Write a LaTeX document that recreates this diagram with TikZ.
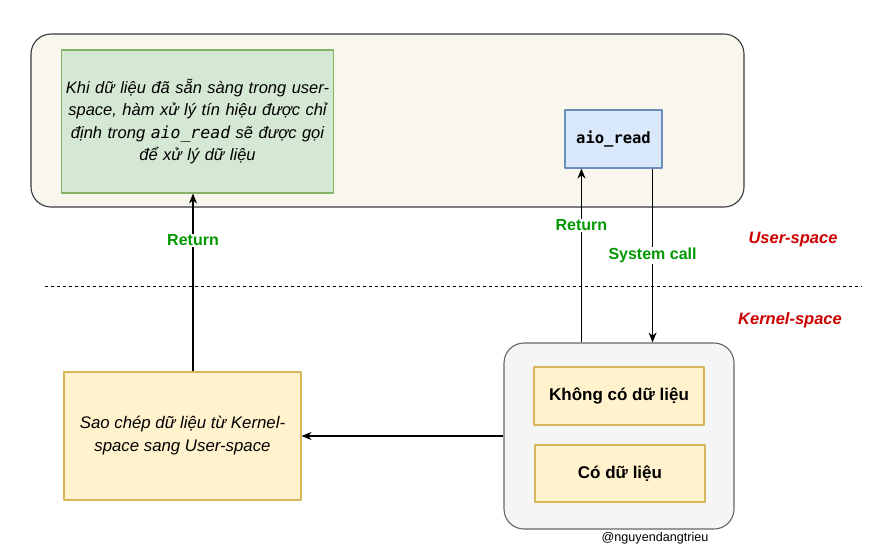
\documentclass[tikz,border=0pt]{standalone}
\usepackage{fontspec}
\setmainfont{Liberation Sans}
\setmonofont{DejaVu Sans Mono}
\usetikzlibrary{arrows.meta}
\definecolor{usrfill}{HTML}{F9F7ED}
\definecolor{usrdraw}{HTML}{36393D}
\definecolor{grnfill}{HTML}{D5E8D4}
\definecolor{grndraw}{HTML}{82B366}
\definecolor{blufill}{HTML}{DAE8FC}
\definecolor{bludraw}{HTML}{6C8EBF}
\definecolor{ylwfill}{HTML}{FFF2CC}
\definecolor{ylwdraw}{HTML}{D6B656}
\definecolor{krnfill}{HTML}{F5F5F5}
\definecolor{krndraw}{HTML}{666666}
\definecolor{lblgreen}{HTML}{009900}
\definecolor{lblred}{HTML}{CC0000}
\begin{document}
\begin{tikzpicture}[x=1pt, y=-1pt, line join=round, line width=1.1pt, >={Stealth[length=10pt,width=8pt]},
		every node/.style={font=\fontsize{16}{22}\selectfont},
		box/.style={draw, align=center, inner sep=2pt},
		lbl/.style={font=\fontsize{16}{18}\selectfont\bfseries, text=lblgreen, fill=white, inner sep=1pt},
		zone/.style={font=\fontsize{16.5}{19}\selectfont\bfseries\itshape, text=lblred}]
		\useasboundingbox (0,0) rectangle (886,555);
		% user-space
		\node[box, draw=usrdraw, fill=usrfill, rounded corners=20pt, minimum width=713pt, minimum height=173pt] (user) at (387.5,120.5) {};
		\node[box, draw=grndraw, fill=grnfill, minimum width=271pt, minimum height=143pt, text width=268pt, font=\fontsize{16.5}{22.3}\selectfont\itshape] (handler) at (197.5,121.5)
			{Khi dữ liệu đã sẵn sàng trong user-\\space, hàm xử lý tín hiệu được chỉ\\định trong \texttt{aio\_read} sẽ được gọi\\để xử lý dữ liệu};
		\node[box, draw=bludraw, fill=blufill, minimum width=97pt, minimum height=58pt, font=\fontsize{15.5}{17}\selectfont\ttfamily\bfseries] (aio) at (613.5,139) {aio\_read};
		% separator
		\draw[dashed, line width=1pt] (45,286) -- (862,286);
		\node[zone] (usrtxt) at (793,240) {User-space};
		\node[zone] (krntxt) at (790,320) {Kernel-space};
		% kernel-space
		\node[box, draw=krndraw, fill=krnfill, rounded corners=20pt, minimum width=230pt, minimum height=186pt] (kernel) at (619,436) {};
		\node[box, draw=ylwdraw, fill=ylwfill, minimum width=170pt, minimum height=58pt, font=\fontsize{17}{19}\selectfont\bfseries] (nodata) at (619,396) {Không có dữ liệu};
		\node[box, draw=ylwdraw, fill=ylwfill, minimum width=170pt, minimum height=57pt, font=\fontsize{17}{19}\selectfont\bfseries] (hasdata) at (620,473.5) {Có dữ liệu};
		\node[box, draw=ylwdraw, fill=ylwfill, minimum width=237pt, minimum height=128pt, font=\fontsize{16.8}{23}\selectfont\itshape] (copy) at (182.5,436)
			{Sao chép dữ liệu từ Kernel-\\space sang User-space};
		\node[font=\fontsize{12.6}{14}\selectfont] (author) at (655,538) {@nguyendangtrieu};
		% connectors
		\draw[->] (kernel.west) -- (copy.east);
		\draw[->] ([xshift=10.5pt]copy.north) -- ([xshift=10.5pt]copy.north |- handler.south) node[lbl, pos=0.737] {Return};
		\draw[->] ([xshift=17pt]aio.south west |- kernel.north) -- ([xshift=17pt]aio.south west) node[lbl, pos=0.674] {Return};
		\draw[->] ([xshift=-10pt]aio.south east) -- ([xshift=-10pt]aio.south east |- kernel.north) node[lbl, midway] {System call};
	\end{tikzpicture}
\end{document}
